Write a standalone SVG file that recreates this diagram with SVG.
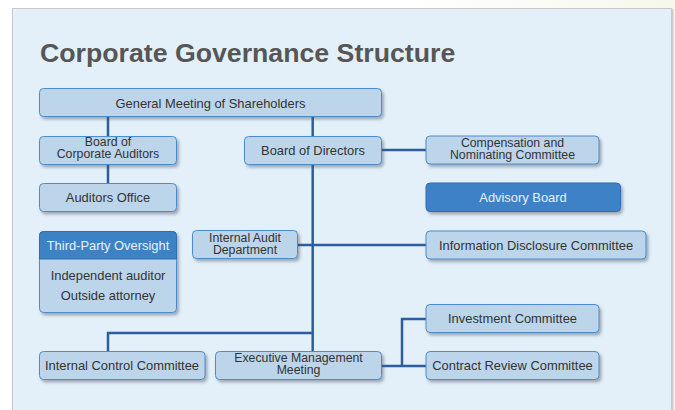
<svg xmlns="http://www.w3.org/2000/svg" width="675" height="410" viewBox="0 0 675 410">
  <defs>
    <linearGradient id="bgTop" x1="0" y1="0" x2="1" y2="0">
      <stop offset="0" stop-color="#ffffff"/>
      <stop offset="0.6" stop-color="#ffffff"/>
      <stop offset="1" stop-color="#f6f8ec"/>
    </linearGradient>
    <filter id="sh" x="-10%" y="-20%" width="130%" height="160%">
      <feDropShadow dx="2" dy="2.5" stdDeviation="1.6" flood-color="#4a5560" flood-opacity="0.45"/>
    </filter>
    <style>
      .box { fill: #bcd5ea; stroke: #4c8ccc; stroke-width: 1; filter: url(#sh); }
      .dark { fill: #3e82c6; stroke: #2f6eb0; stroke-width: 1; filter: url(#sh); }
      .t { font-family: "Liberation Sans", Arial, sans-serif; font-size: 12.9px; fill: #333333; text-anchor: middle; }
      .t2 { font-family: "Liberation Sans", Arial, sans-serif; font-size: 12.3px; fill: #333333; text-anchor: middle; }
      .tw { font-family: "Liberation Sans", Arial, sans-serif; font-size: 12.9px; fill: #e8f1fa; text-anchor: middle; }
      .conn { stroke: #2a5e9e; stroke-width: 2.5; fill: none; }
    </style>
  </defs>

  <rect x="0" y="0" width="675" height="410" fill="url(#bgTop)"/>
  <rect x="12.5" y="8.5" width="659" height="410" fill="#e4f0f9" stroke="#c6c8ca" stroke-width="1"/>
  <line x1="672.5" y1="9" x2="672.5" y2="410" stroke="#c9cbcd" stroke-width="2"/>

  <text x="40" y="62.3" font-family="'Liberation Sans', Arial, sans-serif" font-size="26.7" font-weight="bold" fill="#565656">Corporate Governance Structure</text>

  <g id="connectors">
    <line class="conn" x1="108" y1="116" x2="108" y2="137"/>
    <line class="conn" x1="108" y1="164" x2="108" y2="184"/>
    <line class="conn" x1="312.7" y1="116" x2="312.7" y2="137"/>
    <line class="conn" x1="312.7" y1="164" x2="312.7" y2="352"/>
    <line class="conn" x1="381" y1="150" x2="426" y2="150"/>
    <line class="conn" x1="297" y1="245" x2="426" y2="245"/>
    <polyline class="conn" points="108,352 108,333 312.7,333"/>
    <line class="conn" x1="381" y1="366" x2="426" y2="366"/>
    <polyline class="conn" points="426,319 402,319 402,366"/>
  </g>

  <g id="general-meeting">
    <rect class="box" x="39.5" y="88.5" width="342" height="28" rx="4"/>
    <text class="t" x="210.5" y="108">General Meeting of Shareholders</text>
  </g>

  <g id="board-corporate-auditors">
    <rect class="box" x="39.5" y="136.5" width="137" height="28" rx="4"/>
    <text class="t2" x="108" y="146.4">Board of</text>
    <text class="t2" x="108" y="158.4">Corporate Auditors</text>
  </g>

  <g id="auditors-office">
    <rect class="box" x="39.5" y="183.5" width="137" height="28" rx="4"/>
    <text class="t" x="108" y="202">Auditors Office</text>
  </g>

  <g id="third-party-oversight">
    <rect class="box" x="39.5" y="231.5" width="137" height="81" rx="4"/>
    <path class="dark" style="filter:none" d="M39.5,259 V235.5 a4,4 0 0 1 4,-4 H172.5 a4,4 0 0 1 4,4 V259 Z"/>
    <text class="tw" x="108" y="250">Third-Party Oversight</text>
    <text class="t" x="108" y="280">Independent auditor</text>
    <text class="t" x="108" y="300">Outside attorney</text>
  </g>

  <g id="board-of-directors">
    <rect class="box" x="244.5" y="136.5" width="137" height="28" rx="4"/>
    <text class="t" x="313" y="154.5">Board of Directors</text>
  </g>

  <g id="internal-audit">
    <rect class="box" x="192.5" y="230.5" width="105" height="28" rx="4"/>
    <text class="t2" x="245" y="242.2">Internal Audit</text>
    <text class="t2" x="245" y="254.2">Department</text>
  </g>

  <g id="compensation-nominating">
    <rect class="box" x="426" y="136" width="173" height="28" rx="4"/>
    <text class="t2" x="512.5" y="146.6">Compensation and</text>
    <text class="t2" x="512.5" y="158.6">Nominating Committee</text>
  </g>

  <g id="advisory-board">
    <rect class="dark" x="426" y="183" width="194.5" height="28.5" rx="4"/>
    <text class="tw" x="523" y="202">Advisory Board</text>
  </g>

  <g id="information-disclosure">
    <rect class="box" x="426" y="231" width="220" height="28" rx="4"/>
    <text class="t" x="536" y="249.5">Information Disclosure Committee</text>
  </g>

  <g id="investment-committee">
    <rect class="box" x="426" y="304.5" width="173" height="28" rx="4"/>
    <text class="t" x="512.5" y="323">Investment Committee</text>
  </g>

  <g id="contract-review">
    <rect class="box" x="426" y="351.5" width="173" height="28" rx="4"/>
    <text class="t" x="512.5" y="370">Contract Review Committee</text>
  </g>

  <g id="internal-control">
    <rect class="box" x="39.5" y="351.5" width="165.5" height="28" rx="4"/>
    <text class="t" x="122" y="370">Internal Control Committee</text>
  </g>

  <g id="executive-management">
    <rect class="box" x="215.5" y="351.5" width="166" height="28" rx="4"/>
    <text class="t2" x="298.5" y="361.7">Executive Management</text>
    <text class="t2" x="298.5" y="373.7">Meeting</text>
  </g>
</svg>
